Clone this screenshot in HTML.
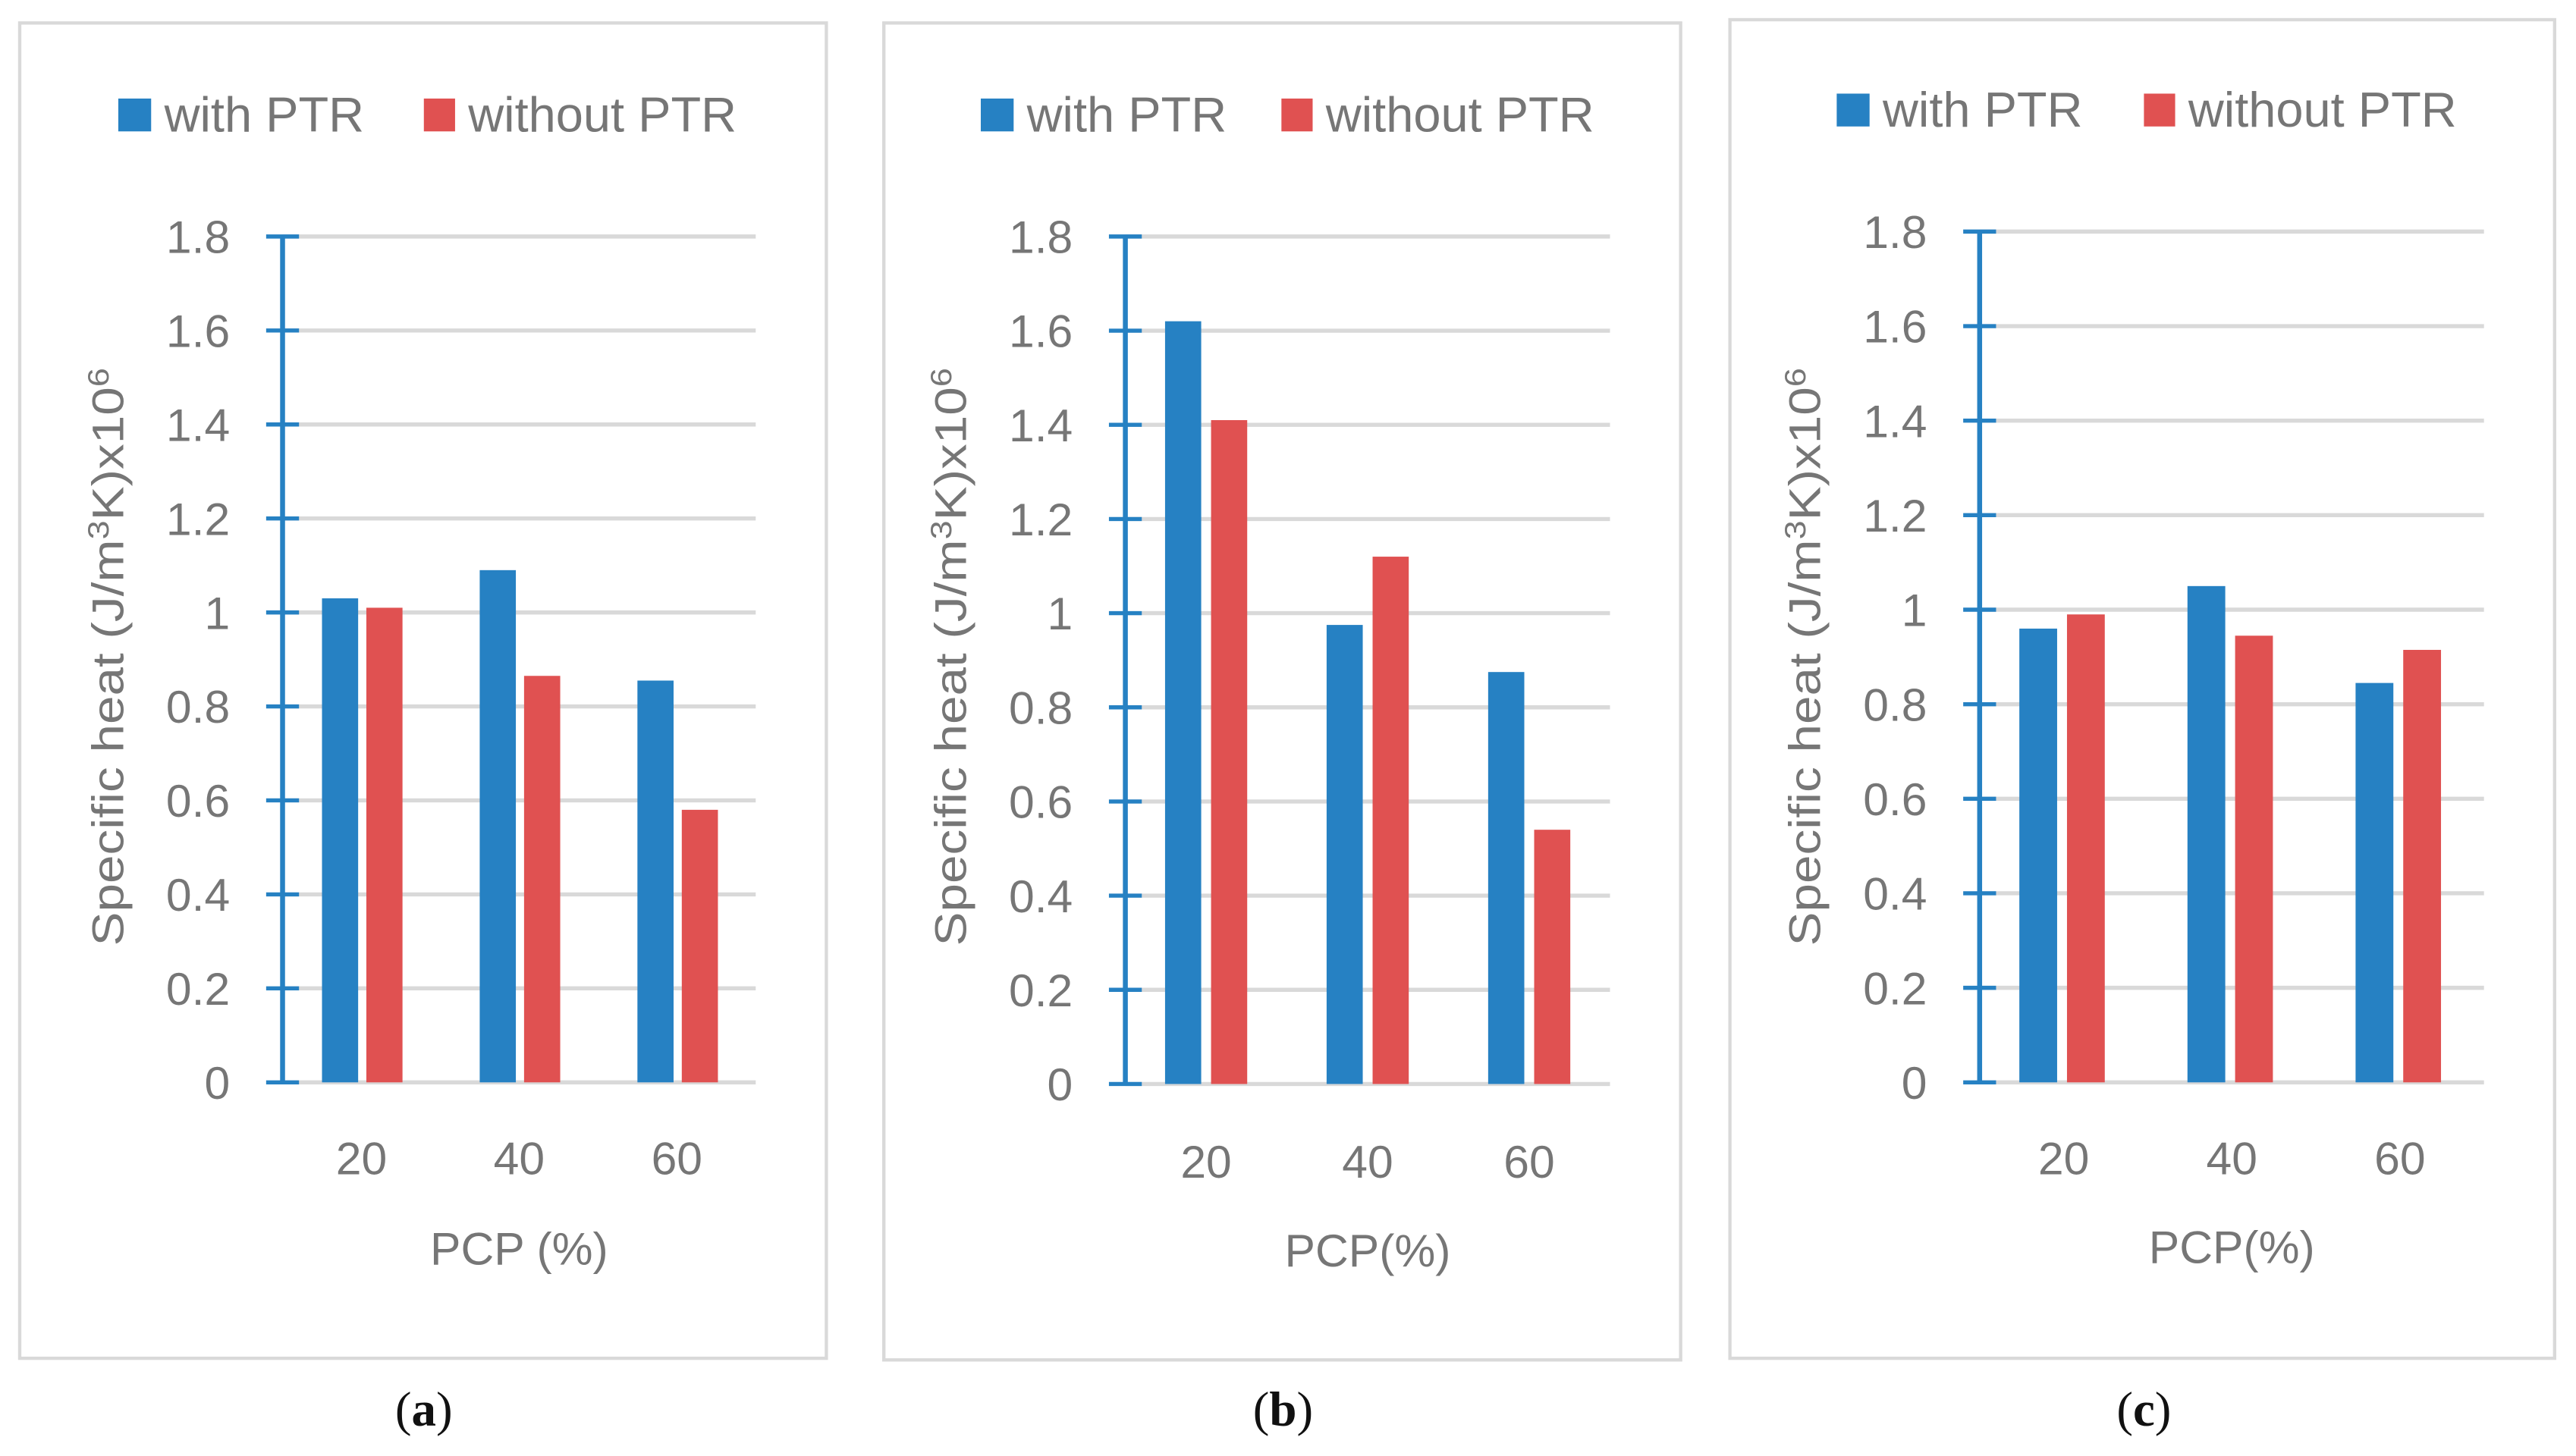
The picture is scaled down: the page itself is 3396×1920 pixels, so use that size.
<!DOCTYPE html>
<html><head><meta charset="utf-8"><style>
html,body{margin:0;padding:0;background:#fff;}
svg{display:block;}
</style></head><body>
<svg id="chart" xmlns="http://www.w3.org/2000/svg" width="3396" height="1920" viewBox="0 0 1568 886.5" preserveAspectRatio="none" font-family="'Liberation Sans', sans-serif"></svg>
<script>
const categories = ["20","40","60"];
const withA = [1.03, 1.09, 0.855];
const withoutA = [1.01, 0.865, 0.58];
const withB = [1.62, 0.975, 0.875];
const withoutB = [1.41, 1.12, 0.54];
const withC = [0.96, 1.05, 0.845];
const withoutC = [0.99, 0.945, 0.915];
const yTicks = [0, 0.2, 0.4, 0.6, 0.8, 1, 1.2, 1.4, 1.6, 1.8];
const xTitles = ["PCP (%)", "PCP(%)", "PCP(%)"];
const panelLabels = ["a", "b", "c"];

const NS = "http://www.w3.org/2000/svg";
const svg = document.getElementById('chart');
function mk(tag, attrs, parent, text) {
  const e = document.createElementNS(NS, tag);
  for (const k in attrs) e.setAttribute(k, attrs[k]);
  if (text !== undefined) e.textContent = text;
  (parent || svg).appendChild(e);
  return e;
}
const BLUE = "#2681C3", RED = "#E05151", GRID = "#d9d9d9", TXT = "#767676";

const panels = [
  {box:[12,14,491,813], ax:172, right:460, y0:659, y18:144, tickX:140, leg:[72,258,70], ytx:65, xlab:705, xt:760, lab:[258,858], s:withA, t:withoutA, bw:22, off:[-24,3]},
  {box:[538,14,485,814], ax:685, right:980, y0:660, y18:144, tickX:653, leg:[597,780,70], ytx:578, xlab:707, xt:761, lab:[781,858], s:withB, t:withoutB, bw:22, off:[-25,3]},
  {box:[1053,12,502,815], ax:1205, right:1512, y0:659, y18:141, tickX:1173, leg:[1118,1305,67], ytx:1098, xlab:705, xt:759, lab:[1305,858], s:withC, t:withoutC, bw:23, off:[-27,2]}
];

panels.forEach((p, i) => {
  const g = mk('g', {});
  
  
  const box = mk('rect', {x:p.box[0], y:p.box[1], width:p.box[2], height:p.box[3], fill:'#fff', stroke:GRID, 'stroke-width':2}, g);
  
  
  const yS = v => p.y0 + (p.y18 - p.y0) * v / 1.8;
  const step = (p.right - p.ax) / categories.length;
  const xS = k => p.ax + step * (k + 0.5);
  yTicks.forEach(v => {
    const y = yS(v);
    const gl = mk('line', {x1:p.ax, x2:p.right, y1:y, y2:y, stroke:GRID, 'stroke-width':2.5}, g);
    
    
    const tk = mk('line', {x1:p.ax-10, x2:p.ax+10, y1:y, y2:y, stroke:BLUE, 'stroke-width':2.5}, g);
    
    
    const tl = mk('text', {x:p.tickX, y:y+10, 'text-anchor':'end', 'font-size':28, fill:TXT}, g, String(v));
    
    
  });
  const axl = mk('line', {x1:p.ax, x2:p.ax, y1:p.y18, y2:p.y0, stroke:BLUE, 'stroke-width':3}, g);
  
  
  categories.forEach((c, k) => {
    const cx = xS(k);
    const b1 = mk('rect', {x:cx+p.off[0], y:yS(p.s[k]), width:p.bw, height:p.y0-yS(p.s[k]), fill:BLUE}, g);
    
    
    const b2 = mk('rect', {x:cx+p.off[1], y:yS(p.t[k]), width:p.bw, height:p.y0-yS(p.t[k]), fill:RED}, g);
    
    
    const xl = mk('text', {x:cx, y:p.xlab+10, 'text-anchor':'middle', 'font-size':28, fill:TXT}, g, c);
    
    
  });
  const xt = mk('text', {x:(p.ax+p.right)/2, y:p.xt+10, 'text-anchor':'middle', 'font-size':28, fill:TXT}, g, xTitles[i]);
  
  
  const yt = mk('text', {x:0, y:0, 'text-anchor':'middle', 'font-size':27, fill:TXT, transform:`translate(${p.ytx+10},400) rotate(-90)`, textLength:352, lengthAdjust:'spacingAndGlyphs'}, g);
  
  
  mk('tspan', {}, yt, 'Specific heat (J/m');
  mk('tspan', {dy:-9, 'font-size':18}, yt, '3');
  mk('tspan', {dy:9}, yt, 'K)x10');
  mk('tspan', {dy:-9, 'font-size':18}, yt, '6');
  const ly = p.leg[2];
  const l1 = mk('rect', {x:p.leg[0], y:ly-10, width:20, height:20, fill:BLUE}, g);
  
  
  const lt1 = mk('text', {x:p.leg[0]+28, y:ly+10, 'font-size':30, fill:TXT}, g, 'with PTR');
  
  
  const l2 = mk('rect', {x:p.leg[1], y:ly-10, width:19, height:20, fill:RED}, g);
  
  
  const lt2 = mk('text', {x:p.leg[1]+27, y:ly+10, 'font-size':30, fill:TXT}, g, 'without PTR');
  
  
  const pl = mk('text', {x:p.lab[0], y:p.lab[1]+10, 'text-anchor':'middle', 'font-size':30, fill:'#111', 'font-family':"'Liberation Serif', serif"}, svg);
  
  
  mk('tspan', {}, pl, '(');
  mk('tspan', {'font-weight':'bold'}, pl, panelLabels[i]);
  mk('tspan', {}, pl, ')');
});
</script>
</body></html>
